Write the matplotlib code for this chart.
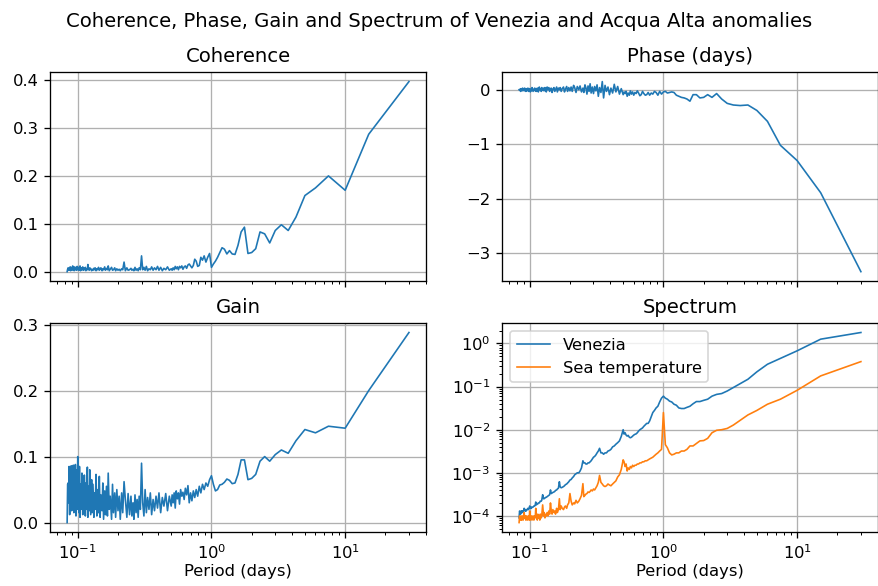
import matplotlib
matplotlib.use("Agg")
import matplotlib.pyplot as plt

# period of each frequency bin (days), from the longest to the shortest
periods = [
    30.0, 15.0, 10.0, 7.5, 6.0, 5.0, 4.286, 3.75, 3.333, 3.0,
    2.727, 2.5, 2.308, 2.143, 2.0, 1.875, 1.765, 1.667, 1.579, 1.5,
    1.429, 1.364, 1.304, 1.25, 1.2, 1.154, 1.111, 1.071, 1.034, 1.0,
    0.968, 0.9375, 0.909, 0.882, 0.857, 0.833, 0.811, 0.789, 0.769, 0.75,
    0.732, 0.714, 0.698, 0.682, 0.667, 0.652, 0.638, 0.625, 0.612, 0.6,
    0.588, 0.577, 0.566, 0.556, 0.545, 0.536, 0.526, 0.517, 0.508, 0.5,
    0.484, 0.469, 0.455, 0.441, 0.429, 0.417, 0.405, 0.395, 0.385, 0.375,
    0.366, 0.357, 0.349, 0.341, 0.333, 0.326, 0.319, 0.3125, 0.306, 0.3,
    0.294, 0.288, 0.283, 0.278, 0.273, 0.268, 0.263, 0.259, 0.254, 0.25,
    0.244, 0.238, 0.233, 0.227, 0.222, 0.217, 0.213, 0.208, 0.204, 0.2,
    0.196, 0.192, 0.189, 0.185, 0.182, 0.179, 0.175, 0.172, 0.169, 0.1667,
    0.164, 0.161, 0.159, 0.156, 0.154, 0.152, 0.149, 0.147, 0.145, 0.143,
    0.141, 0.139, 0.137, 0.135, 0.133, 0.132, 0.130, 0.128, 0.127, 0.125,
    0.123, 0.122, 0.120, 0.119, 0.118, 0.116, 0.115, 0.114, 0.112, 0.111,
    0.110, 0.109, 0.1075, 0.106, 0.105, 0.104, 0.103, 0.102, 0.101, 0.1,
    0.099, 0.098, 0.097, 0.096, 0.095, 0.094, 0.0935, 0.0926, 0.0917, 0.0909,
    0.0901, 0.0893, 0.0885, 0.0877, 0.0870, 0.0862, 0.0855, 0.0847, 0.0840, 0.0833,
]

coherence = [
    0.397, 0.287, 0.170, 0.200, 0.175, 0.159, 0.114, 0.086, 0.098, 0.086,
    0.060, 0.079, 0.083, 0.048, 0.040, 0.038, 0.093, 0.083, 0.055, 0.036,
    0.037, 0.044, 0.037, 0.047, 0.050, 0.040, 0.030, 0.022, 0.016, 0.009,
    0.038, 0.030, 0.020, 0.033, 0.024, 0.030, 0.013, 0.011, 0.022, 0.026,
    0.013, 0.008, 0.012, 0.016, 0.014, 0.007, 0.012, 0.010, 0.005, 0.012,
    0.008, 0.011, 0.004, 0.010, 0.006, 0.011, 0.004, 0.008, 0.003, 0.006,
    0.003, 0.010, 0.004, 0.007, 0.002, 0.009, 0.003, 0.011, 0.004, 0.008,
    0.003, 0.010, 0.004, 0.006, 0.002, 0.011, 0.003, 0.009, 0.004, 0.033,
    0.004, 0.008, 0.002, 0.006, 0.003, 0.009, 0.002, 0.005, 0.003, 0.007,
    0.004, 0.003, 0.008, 0.002, 0.020, 0.004, 0.006, 0.002, 0.005, 0.003,
    0.006, 0.002, 0.008, 0.004, 0.003, 0.009, 0.005, 0.002, 0.012, 0.004,
    0.007, 0.003, 0.010, 0.004, 0.006, 0.002, 0.008, 0.005, 0.003, 0.009,
    0.004, 0.006, 0.002, 0.008, 0.004, 0.007, 0.003, 0.005, 0.002, 0.006,
    0.008, 0.003, 0.005, 0.015, 0.004, 0.006, 0.002, 0.009, 0.004, 0.007,
    0.003, 0.010, 0.004, 0.008, 0.002, 0.012, 0.005, 0.003, 0.009, 0.004,
    0.011, 0.003, 0.007, 0.004, 0.010, 0.002, 0.008, 0.005, 0.012, 0.003,
    0.006, 0.009, 0.002, 0.010, 0.004, 0.007, 0.003, 0.008, 0.005, 0.000,
]

phase = [
    -3.34, -1.89, -1.30, -1.02, -0.58, -0.38, -0.28, -0.29, -0.28, -0.25,
    -0.17, -0.07, -0.14, -0.09, -0.14, -0.15, -0.09, -0.09, -0.21, -0.17,
    -0.15, -0.14, -0.12, -0.10, -0.05, -0.04, -0.05, -0.06, -0.03, -0.04,
    -0.08, -0.03, -0.10, -0.05, -0.03, -0.08, -0.06, -0.10, -0.05, -0.09,
    -0.10, -0.07, -0.03, -0.09, -0.11, -0.06, -0.02, -0.07, -0.05, -0.10,
    -0.04, -0.08, -0.02, -0.10, -0.06, -0.12, -0.03, -0.07, -0.04, -0.09,
    0.02, -0.08, 0.06, -0.04, 0.10, -0.06, 0.03, -0.09, 0.05, -0.03,
    0.08, -0.15, 0.15, -0.05, 0.04, -0.12, 0.09, -0.02, 0.06, -0.07,
    0.05, -0.06, 0.11, -0.03, 0.07, -0.08, 0.04, 0.09, -0.05, 0.03,
    -0.04, 0.07, 0.00, 0.06, -0.05, 0.04, 0.08, -0.03, 0.05, -0.02,
    0.04, -0.03, 0.06, 0.01, -0.04, 0.05, 0.02, -0.03, 0.04, 0.00,
    0.03, -0.04, 0.05, 0.00, -0.03, 0.04, 0.01, -0.05, 0.03, 0.02,
    -0.03, 0.04, 0.00, 0.05, -0.04, 0.02, 0.04, -0.02, 0.03, -0.01,
    0.04, -0.03, 0.02, 0.00, 0.05, -0.04, 0.01, 0.03, -0.03, 0.02,
    -0.02, 0.03, 0.00, -0.03, 0.02, 0.04, -0.02, 0.01, -0.04, 0.02,
    0.01, -0.03, 0.03, 0.00, -0.02, 0.02, -0.03, 0.01, 0.03, -0.02,
    0.02, -0.01, 0.03, -0.02, 0.01, 0.02, -0.03, 0.01, -0.01, 0.00,
]

gain = [
    0.288, 0.200, 0.143, 0.146, 0.136, 0.141, 0.124, 0.105, 0.110, 0.103,
    0.093, 0.100, 0.093, 0.073, 0.067, 0.065, 0.095, 0.095, 0.073, 0.060,
    0.059, 0.064, 0.066, 0.061, 0.058, 0.057, 0.050, 0.048, 0.058, 0.071,
    0.065, 0.055, 0.060, 0.050, 0.058, 0.045, 0.055, 0.040, 0.050, 0.038,
    0.048, 0.033, 0.045, 0.030, 0.056, 0.042, 0.052, 0.035, 0.046, 0.040,
    0.050, 0.028, 0.045, 0.036, 0.048, 0.022, 0.045, 0.030, 0.042, 0.025,
    0.040, 0.018, 0.044, 0.025, 0.038, 0.015, 0.045, 0.022, 0.040, 0.018,
    0.035, 0.012, 0.045, 0.020, 0.038, 0.015, 0.050, 0.010, 0.030, 0.090,
    0.020, 0.040, 0.008, 0.035, 0.015, 0.042, 0.005, 0.030, 0.010, 0.040,
    0.012, 0.044, 0.008, 0.035, 0.062, 0.015, 0.045, 0.005, 0.040, 0.018,
    0.050, 0.008, 0.045, 0.015, 0.058, 0.005, 0.040, 0.020, 0.075, 0.010,
    0.055, 0.012, 0.048, 0.005, 0.060, 0.018, 0.042, 0.008, 0.070, 0.015,
    0.050, 0.010, 0.073, 0.020, 0.045, 0.008, 0.058, 0.015, 0.065, 0.012,
    0.080, 0.018, 0.055, 0.008, 0.084, 0.020, 0.060, 0.010, 0.072, 0.015,
    0.068, 0.012, 0.075, 0.020, 0.058, 0.008, 0.085, 0.015, 0.070, 0.100,
    0.020, 0.080, 0.010, 0.088, 0.025, 0.070, 0.015, 0.087, 0.020, 0.075,
    0.018, 0.086, 0.025, 0.070, 0.012, 0.085, 0.030, 0.060, 0.058, 0.000,
]

spec_venezia = [
    1.80, 1.26, 0.676, 0.45, 0.33, 0.22, 0.148, 0.117, 0.095, 0.079,
    0.069, 0.066, 0.060, 0.051, 0.048, 0.045, 0.045, 0.040, 0.035, 0.033,
    0.031, 0.031, 0.032, 0.037, 0.039, 0.044, 0.046, 0.051, 0.054, 0.060,
    0.054, 0.044, 0.035, 0.032, 0.028, 0.025, 0.020, 0.016, 0.014, 0.014,
    0.013, 0.012, 0.011, 0.0105, 0.010, 0.0093, 0.0085, 0.008, 0.0078, 0.0075,
    0.0071, 0.0067, 0.0065, 0.0067, 0.0074, 0.0071, 0.0075, 0.0085, 0.0079, 0.010,
    0.007, 0.0055, 0.005, 0.0046, 0.0042, 0.004, 0.0035, 0.0033, 0.0032, 0.0029,
    0.0029, 0.0027, 0.0029, 0.0029, 0.0037, 0.0032, 0.0029, 0.0026, 0.0024, 0.0023,
    0.0021, 0.0019, 0.0018, 0.0017, 0.0017, 0.0016, 0.0016, 0.0017, 0.0017, 0.0019,
    0.0013, 0.0011, 0.0010, 0.0010, 0.00095, 0.0009, 0.00082, 0.00076, 0.0007, 0.00068,
    0.00062, 0.00058, 0.00055, 0.00053, 0.0005, 0.00048, 0.00046, 0.00045, 0.00047, 0.00062,
    0.00044, 0.00042, 0.0004, 0.00039, 0.00037, 0.00036, 0.00035, 0.00034, 0.00033, 0.0004,
    0.00031, 0.0003, 0.00029, 0.00028, 0.00027, 0.00027, 0.00026, 0.00025, 0.00025, 0.00031,
    0.00023, 0.00022, 0.00022, 0.00021, 0.0002, 0.0002, 0.00019, 0.00019, 0.00018, 0.00021,
    0.00018, 0.00017, 0.00017, 0.00016, 0.00016, 0.00016, 0.00015, 0.00016, 0.00015, 0.00017,
    0.00015, 0.00014, 0.00015, 0.00014, 0.00014, 0.00013, 0.00014, 0.00013, 0.00014, 0.00015,
    0.00013, 0.00013, 0.00012, 0.00013, 0.00012, 0.00013, 0.00011, 0.00012, 0.00013, 0.00009,
]

spec_sea_temp = [
    0.38, 0.177, 0.082, 0.051, 0.039, 0.028, 0.022, 0.0165, 0.0128, 0.0107,
    0.010, 0.0097, 0.0085, 0.0063, 0.0056, 0.0055, 0.0048, 0.0042, 0.0042, 0.0035,
    0.0032, 0.0032, 0.0029, 0.0029, 0.0027, 0.0026, 0.0029, 0.0038, 0.0045, 0.025,
    0.0035, 0.0032, 0.0029, 0.0027, 0.0025, 0.0023, 0.0022, 0.0021, 0.0020, 0.0019,
    0.0019, 0.0018, 0.0018, 0.0017, 0.0017, 0.0016, 0.0016, 0.0015, 0.0015, 0.0014,
    0.0015, 0.0013, 0.0014, 0.0012, 0.0013, 0.0011, 0.0016, 0.0014, 0.0018, 0.0020,
    0.0012, 0.0009, 0.0008, 0.00065, 0.0006, 0.00055, 0.0005, 0.00052, 0.00055, 0.0005,
    0.00048, 0.0005, 0.00055, 0.0006, 0.00087, 0.0006, 0.0005, 0.00045, 0.0004, 0.00042,
    0.00038, 0.0004, 0.00037, 0.00035, 0.00036, 0.00033, 0.00032, 0.0003, 0.00028, 0.00056,
    0.0003, 0.00025, 0.00022, 0.0002, 0.00023, 0.00019, 0.0002, 0.00018, 0.00022, 0.00033,
    0.0002, 0.00018, 0.00015, 0.00017, 0.00016, 0.00014, 0.00015, 0.00017, 0.00014, 0.00025,
    0.00014, 0.00012, 0.00015, 0.00011, 0.00013, 0.00012, 0.00014, 0.00011, 0.00013, 0.0002,
    0.00011, 0.00013, 0.0001, 0.00012, 0.0001, 0.00011, 0.00009, 0.00012, 0.0001, 0.00018,
    0.0001, 0.00009, 0.00011, 0.00008, 0.0001, 0.00009, 0.00011, 0.00008, 0.0001, 0.00015,
    0.00009, 0.0001, 0.00008, 0.0001, 0.00009, 0.00008, 0.0001, 0.00009, 0.00008, 0.00013,
    0.00008, 0.0001, 0.00009, 0.00008, 0.0001, 0.00009, 0.00008, 0.0001, 0.00009, 0.00012,
    0.00009, 0.00008, 0.0001, 0.00009, 0.00008, 0.0001, 0.00008, 0.00009, 0.0001, 0.00007,
]

fig, axs = plt.subplots(2, 2, figsize=(878 / 118, 586 / 118), dpi=118, sharex=True)
fig.subplots_adjust(left=0.057, right=1.0, top=0.877, bottom=0.092,
                    wspace=0.202, hspace=0.2)
fig.suptitle('Coherence, Phase, Gain and Spectrum of Venezia and Acqua Alta anomalies')

axs[0, 0].plot(periods, coherence, lw=1)
axs[0, 0].set_title('Coherence')
axs[0, 1].plot(periods, phase, lw=1)
axs[0, 1].set_title('Phase (days)')
axs[1, 0].plot(periods, gain, lw=1)
axs[1, 0].set_title('Gain')
axs[1, 1].plot(periods, spec_venezia, lw=1, label='Venezia')
axs[1, 1].plot(periods, spec_sea_temp, lw=1, label='Sea temperature')
axs[1, 1].set_yscale('log')
axs[1, 1].set_title('Spectrum')
axs[1, 1].legend(loc='upper left')

for ax in axs.flat:
    ax.set_xscale('log')
    ax.grid(True)
for ax in axs[1]:
    ax.set_xlabel('Period (days)', labelpad=1)

plt.savefig('out.png')
